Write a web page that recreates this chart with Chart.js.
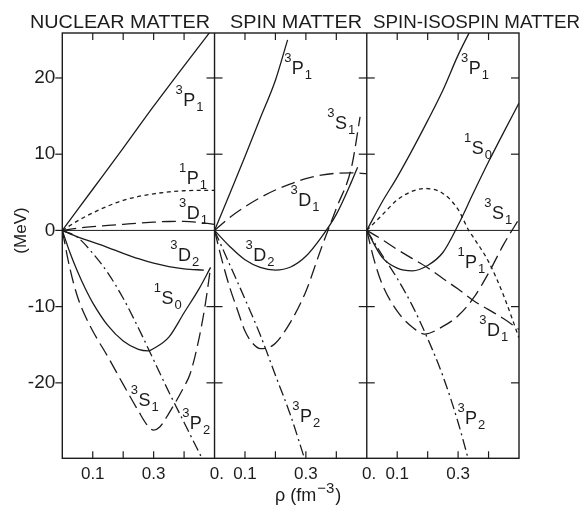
<!DOCTYPE html>
<html>
<head>
<meta charset="utf-8">
<title>Partial wave contributions</title>
<script src="https://cdn.jsdelivr.net/npm/chart.js@4.4.1/dist/chart.umd.min.js"></script>
<style>
  html, body { margin: 0; padding: 0; background: #fff; }
  canvas { display: block; }
</style>
</head>
<body>
<canvas id="grafico" width="585" height="514"></canvas>
<script>
"use strict";

// =============================================================
// DATA  (rho in fm^-3, energy in MeV)
// =============================================================
const panelTitles = ["NUCLEAR MATTER", "SPIN MATTER", "SPIN-ISOSPIN MATTER"];
const rhoSpan = 0.5;               // width of one panel on the rho axis

// nuclear matter
const nm3P1 = [[0,0],[0.1,5.4],[0.2,10.8],[0.3,16.3],[0.4,21.6],[0.5,26.8]];
const nm1P1 = [[0,0],[0.05,1.25],[0.1,2.3],[0.15,3.2],[0.2,3.95],[0.25,4.45],[0.3,4.8],[0.35,5.05],[0.4,5.2],[0.45,5.25],[0.5,5.25]];
const nm3D1 = [[0,0],[0.05,0.3],[0.1,0.5],[0.15,0.65],[0.2,0.8],[0.25,0.95],[0.3,1.08],[0.35,1.17],[0.4,1.18],[0.45,1.05],[0.5,0.8]];
const nm3D2 = [[0,0],[0.05,-0.85],[0.1,-1.55],[0.15,-2.25],[0.2,-3.0],[0.25,-3.7],[0.3,-4.3],[0.35,-4.75],[0.4,-5.05],[0.465,-5.2]];
const nm1S0 = [[0,0],[0.025,-2.9],[0.05,-5.4],[0.075,-7.6],[0.1,-9.5],[0.15,-12.5],[0.2,-14.5],[0.25,-15.6],[0.283,-15.8],[0.3,-15.5],[0.35,-14.0],[0.4,-10.8],[0.45,-7.6],[0.487,-4.85]];
const nm3S1 = [[0,0],[0.025,-5.0],[0.05,-8.7],[0.075,-11.2],[0.1,-13.2],[0.15,-16.6],[0.2,-20.2],[0.25,-23.7],[0.28,-25.6],[0.3,-26.2],[0.32,-25.8],[0.35,-24.0],[0.4,-20.5],[0.42,-18.8],[0.45,-14.0],[0.47,-9.6],[0.487,-4.85]];
const nm3P2 = [[0,0],[0.05,-0.9],[0.1,-3.0],[0.15,-5.6],[0.2,-8.9],[0.25,-12.8],[0.3,-17.0],[0.35,-21.2],[0.4,-25.2],[0.45,-29.2],[0.47,-30.8]];

// spin matter
const sm3P1 = [[0,0],[0.05,4.8],[0.1,9.7],[0.15,14.7],[0.2,19.7],[0.24,25.0]];
const sm3D1 = [[0,0],[0.05,1.7],[0.1,3.1],[0.15,4.3],[0.2,5.3],[0.25,6.1],[0.3,6.8],[0.35,7.25],[0.4,7.5],[0.45,7.55],[0.5,7.45]];
const sm3D2 = [[0,0],[0.05,-2.1],[0.1,-3.85],[0.15,-4.85],[0.2,-5.2],[0.25,-4.8],[0.3,-3.4],[0.35,-0.95],[0.4,2.1],[0.45,6.4],[0.47,8.3]];
const sm3S1 = [[0,0],[0.025,-4.0],[0.05,-7.5],[0.075,-10.4],[0.1,-13.2],[0.125,-14.8],[0.15,-15.5],[0.175,-15.4],[0.2,-14.8],[0.25,-12.0],[0.3,-8.0],[0.35,-2.4],[0.4,2.9],[0.45,8.3],[0.478,14.9]];
const sm3P2 = [[0,0],[0.05,-4.5],[0.1,-9.0],[0.15,-13.7],[0.2,-19.0],[0.25,-24.3],[0.3,-30.5]];

// spin-isospin matter
const ssm3P1 = [[0,0],[0.05,3.7],[0.1,7.0],[0.15,10.6],[0.2,14.4],[0.25,18.4],[0.3,23.0],[0.35,27.0]];
const ssm1S0 = [[0,0],[0.05,-3.5],[0.1,-4.95],[0.15,-5.3],[0.2,-4.6],[0.25,-2.9],[0.3,0.7],[0.35,4.9],[0.4,9.0],[0.45,12.9],[0.5,16.7]];
const ssm1P1 = [[0,0],[0.05,2.0],[0.1,4.0],[0.15,5.15],[0.19,5.5],[0.25,4.85],[0.3,2.75],[0.335,0],[0.35,-0.9],[0.4,-4.1],[0.45,-8.6],[0.5,-14.1]];
const ssm3S1 = [[0,0],[0.025,-4.0],[0.05,-7.0],[0.1,-10.6],[0.15,-12.7],[0.19,-13.6],[0.25,-12.6],[0.3,-11.2],[0.35,-8.9],[0.4,-5.6],[0.45,-1.8],[0.5,1.5]];
const ssm3D1 = [[0,0],[0.05,-1.2],[0.1,-2.5],[0.15,-3.7],[0.2,-4.9],[0.25,-6.3],[0.3,-7.7],[0.35,-9.2],[0.4,-10.4],[0.45,-11.6],[0.5,-13.0]];
const ssm3P2 = [[0,0],[0.05,-3.2],[0.1,-6.3],[0.15,-9.9],[0.2,-14.2],[0.25,-19.1],[0.3,-25.2],[0.35,-32.5]];

// axes
const yTickValues = [-20, -10, 0, 10, 20];
const xMinorRho = [0.1, 0.2, 0.3, 0.4];
const xTickRho  = [[0.1, 0.3], [0, 0.1, 0.3], [0, 0.1, 0.3]];
const xTickText = [["0.1", "0.3"], [" 0.", "0.1", "0.3"], [" 0.", "0.1", "0.3"]];

// curve labels: panel, rho, E, superscript, letter, subscript
const termLabels = [
  [0, 0.397, 16.3, "3", "P", "1"],
  [0, 0.409, 6.05, "1", "P", "1"],
  [0, 0.409, 1.5, "3", "D", "1"],
  [0, 0.380, -4.0, "3", "D", "2"],
  [0, 0.326, -9.7, "1", "S", "0"],
  [0, 0.250, -23.0, "3", "S", "1"],
  [0, 0.419, -26.1, "3", "P", "2"],
  [1, 0.254, 20.5, "3", "P", "1"],
  [1, 0.396, 13.3, "3", "S", "1"],
  [1, 0.275, 3.2, "3", "D", "1"],
  [1, 0.127, -4.0, "3", "D", "2"],
  [1, 0.281, -25.2, "3", "P", "2"],
  [2, 0.335, 20.5, "3", "P", "1"],
  [2, 0.345, 10.0, "1", "S", "0"],
  [2, 0.411, 1.5, "3", "S", "1"],
  [2, 0.323, -4.9, "1", "P", "1"],
  [2, 0.395, -13.85, "3", "D", "1"],
  [2, 0.323, -25.4, "3", "P", "2"]
];

// =============================================================
// STYLE
// =============================================================
const INK = "#1c1c1c";
const FONT = "'Liberation Sans', Arial, sans-serif";
const SOLID = [], SHORT = [4, 3.5], LONG = [14, 6], DASHDOT = [11, 4, 2, 4];

const curves = [
  [0, nm3P1, SOLID], [0, nm1P1, SHORT], [0, nm3D1, LONG], [0, nm3D2, SOLID],
  [0, nm1S0, SOLID], [0, nm3S1, LONG], [0, nm3P2, DASHDOT],
  [1, sm3P1, SOLID], [1, sm3S1, LONG], [1, sm3D1, LONG], [1, sm3D2, SOLID], [1, sm3P2, DASHDOT],
  [2, ssm3P1, SOLID], [2, ssm1S0, SOLID], [2, ssm1P1, SHORT], [2, ssm3S1, LONG],
  [2, ssm3D1, LONG], [2, ssm3P2, DASHDOT]
];

// every panel sits on one shared linear axis, shifted by panel * rhoSpan
const datasets = curves.map(([panel, pts, dash]) => ({
  data: pts.map(([r, e]) => ({ x: r + panel * rhoSpan, y: e })),
  borderColor: INK,
  borderWidth: 1.3,
  borderDash: dash,
  pointRadius: 0,
  fill: false,
  cubicInterpolationMode: "monotone"
}));

const xTicks = [];
xTickRho.forEach((list, p) => list.forEach((r, i) =>
  xTicks.push({ value: r + p * rhoSpan, label: xTickText[p][i] })));

// =============================================================
// FRAME, TICK MARKS AND TEXT
// =============================================================
function seg(ctx, x1, y1, x2, y2) {
  ctx.beginPath(); ctx.moveTo(x1, y1); ctx.lineTo(x2, y2); ctx.stroke();
}

function drawTerm(ctx, x, y, sup, letter, sub) {
  ctx.textBaseline = "alphabetic";
  ctx.font = "18px " + FONT;
  ctx.textAlign = "left";
  ctx.fillText(letter, x, y);
  const w = ctx.measureText(letter).width;
  ctx.font = "13px " + FONT;
  ctx.textAlign = "right";
  ctx.fillText(sup, x - 0.5, y - 12);
  ctx.textAlign = "left";
  ctx.fillText(sub, x + w + 1, y + 5);
}

function drawFitted(ctx, text, left, right, baseline, font) {
  ctx.font = font;
  const w = ctx.measureText(text).width;
  ctx.save();
  ctx.translate(left, baseline);
  ctx.scale((right - left) / w, 1);
  ctx.textAlign = "left";
  ctx.textBaseline = "alphabetic";
  ctx.fillText(text, 0, 0);
  ctx.restore();
}

const titleSpans = [[30, 210], [230, 362], [373, 580]];

const marcoPlugin = {
  id: "marco",
  afterDatasetsDraw(chart) {
    const { ctx, chartArea: a, scales: { x, y } } = chart;
    ctx.save();
    ctx.strokeStyle = INK;
    ctx.fillStyle = INK;
    ctx.setLineDash([]);

    // zero line
    ctx.lineWidth = 1;
    const y0 = y.getPixelForValue(0);
    seg(ctx, a.left, y0, a.right, y0);

    // box and panel separators
    ctx.lineWidth = 1.4;
    ctx.strokeRect(a.left, a.top, a.right - a.left, a.bottom - a.top);
    const seps = [1, 2].map(p => x.getPixelForValue(p * rhoSpan));
    seps.forEach(px => seg(ctx, px, a.top, px, a.bottom));

    // x tick marks, inward on top and bottom
    ctx.lineWidth = 1.2;
    for (let p = 0; p < 3; p++) {
      xMinorRho.forEach(r => {
        const px = x.getPixelForValue(r + p * rhoSpan);
        seg(ctx, px, a.top, px, a.top + 7);
        seg(ctx, px, a.bottom, px, a.bottom - 7);
      });
    }

    // y tick marks
    yTickValues.forEach(v => {
      const py = y.getPixelForValue(v);
      seg(ctx, a.left - 7, py, a.left, py);
      if (v === 0) return;
      seps.forEach(px => seg(ctx, px - 8, py, px + 8, py));
      seg(ctx, a.right - 8, py, a.right, py);
    });
    ctx.restore();
  },

  afterDraw(chart) {
    const { ctx, scales: { x, y } } = chart;
    ctx.save();
    ctx.fillStyle = INK;

    // curve labels
    termLabels.forEach(([p, r, e, sup, letter, sub]) =>
      drawTerm(ctx, x.getPixelForValue(r + p * rhoSpan), y.getPixelForValue(e), sup, letter, sub));

    // panel titles
    panelTitles.forEach((t, i) =>
      drawFitted(ctx, t, titleSpans[i][0], titleSpans[i][1], 28.3, "18px " + FONT));

    // y axis title
    ctx.save();
    ctx.translate(26, 230.5);
    ctx.rotate(-Math.PI / 2);
    ctx.font = "17px " + FONT;
    ctx.textAlign = "center";
    ctx.textBaseline = "alphabetic";
    ctx.fillText("(MeV)", 0, 0);
    ctx.restore();

    // x axis title: rho (fm^-3)
    ctx.textAlign = "left";
    ctx.textBaseline = "alphabetic";
    ctx.font = "18px " + FONT;
    let cx = 275;
    ctx.fillText("ρ (fm", cx, 501);
    cx += ctx.measureText("ρ (fm").width + 1;
    ctx.font = "15px " + FONT;
    ctx.fillText("\u22123", cx, 493);
    cx += ctx.measureText("\u22123").width + 1;
    ctx.font = "18px " + FONT;
    ctx.fillText(")", cx, 501);

    ctx.restore();
  }
};

// =============================================================
// CHART
// =============================================================
new Chart(document.getElementById("grafico"), {
  type: "line",
  data: { datasets },
  options: {
    responsive: false,
    animation: false,
    layout: { padding: { left: 0, right: 66, top: 33, bottom: 0 } },
    plugins: { legend: { display: false }, tooltip: { enabled: false } },
    scales: {
      x: {
        type: "linear",
        min: 0,
        max: 3 * rhoSpan,
        grid: { display: false, drawTicks: false },
        border: { display: false },
        afterBuildTicks: s => { s.ticks = xTicks.map(t => ({ value: t.value })); },
        afterFit: s => { s.height = 55.7; },
        ticks: {
          autoSkip: false,
          maxRotation: 0,
          padding: 6,
          color: INK,
          font: { family: FONT, size: 17 },
          callback: (v, i) => xTicks[i].label
        }
      },
      y: {
        type: "linear",
        min: -29.9,
        max: 25.9,
        grid: { display: false, drawTicks: false },
        border: { display: false },
        afterBuildTicks: s => { s.ticks = yTickValues.map(v => ({ value: v })); },
        afterFit: s => { s.width = 62.3; },
        ticks: {
          padding: 7,
          color: INK,
          font: { family: FONT, size: 19 },
          callback: v => String(v)
        }
      }
    }
  },
  plugins: [marcoPlugin]
});
</script>
</body>
</html>
